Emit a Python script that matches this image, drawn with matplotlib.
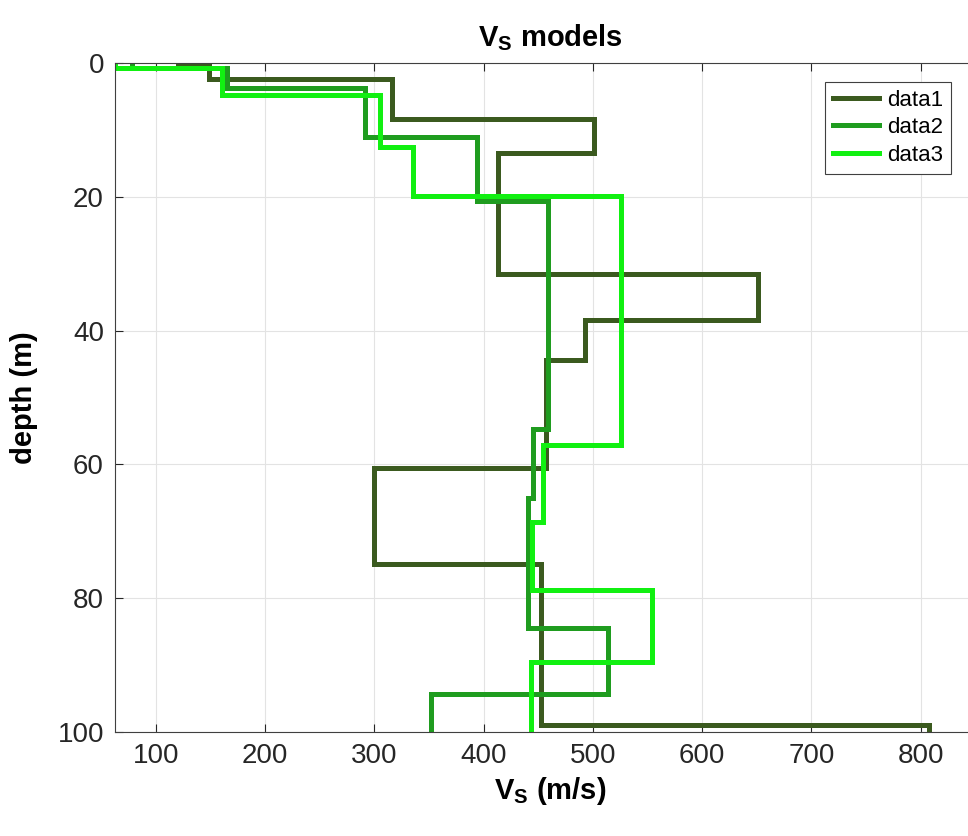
import numpy as np
import matplotlib.pyplot as plt

plt.rcParams['font.family'] = ['Liberation Sans', 'DejaVu Sans']

# shear-wave velocity (m/s) of each layer and the depth (m) of its top
vs1 = [120, 149, 316, 501, 413, 651, 493, 457, 300, 453, 808]
top1 = [0, 0.3, 2.4, 8.4, 13.4, 31.6, 38.4, 44.4, 60.5, 74.9, 99.0]

vs2 = [78, 165, 291, 394, 459, 445, 441, 514, 352]
top2 = [0, 0.8, 3.8, 11.0, 20.6, 54.7, 65.0, 84.5, 94.3]

vs3 = [63, 161, 305, 335, 526, 454, 444, 554, 443]
top3 = [0, 0.8, 4.8, 12.5, 19.9, 57.1, 68.6, 78.7, 89.5]

names = ['data1', 'data2', 'data3']
colors = ['#3b5a1f', '#1f9c1f', '#11f011']


def stairs(vs, tops, bottom=105):
    # turn layer values into a step profile: two points per layer
    bots = list(tops[1:]) + [bottom]
    x = np.repeat(vs, 2)
    y = np.column_stack([tops, bots]).ravel()
    return x, y


fig = plt.figure(figsize=(9.68, 8.36), dpi=100)
ax = fig.add_axes([0.1188, 0.1244, 0.8988, 0.8002])

for vs, tops, name, c in zip([vs1, vs2, vs3], [top1, top2, top3], names, colors):
    x, y = stairs(vs, tops)
    ax.plot(x, y, color=c, lw=3.6, label=name, solid_joinstyle='miter')

ax.set_xlim(62.6, 859)
ax.set_ylim(100, 0)
ax.set_xticks(np.arange(100, 801, 100))
ax.set_yticks(np.arange(0, 101, 20))
ax.grid(True, color='#e3e3e3', lw=0.8)
ax.set_axisbelow(True)

gray = '#262626'
ax.tick_params(direction='in', length=6, width=0.8, colors=gray, labelsize=20,
               top=True, right=True, pad=8)
for s in ax.spines.values():
    s.set_color('#404040')
    s.set_linewidth(0.8)

ax.set_title('V$_\\mathregular{S}$ models', fontsize=21, fontweight='bold', pad=12)
ax.set_xlabel('V$_\\mathregular{S}$ (m/s)', fontsize=21, fontweight='bold', labelpad=4)
ax.set_ylabel('depth (m)', fontsize=21, fontweight='bold', labelpad=14)

leg = ax.legend(loc='upper right', bbox_to_anchor=(0.961, 0.972), fontsize=16,
                handlelength=2.1, handletextpad=0.35, borderpad=0.35, labelspacing=0.3,
                fancybox=False, framealpha=1, edgecolor='#404040', borderaxespad=0)
leg.get_frame().set_linewidth(0.8)

fig.savefig('out.png', dpi=100)
